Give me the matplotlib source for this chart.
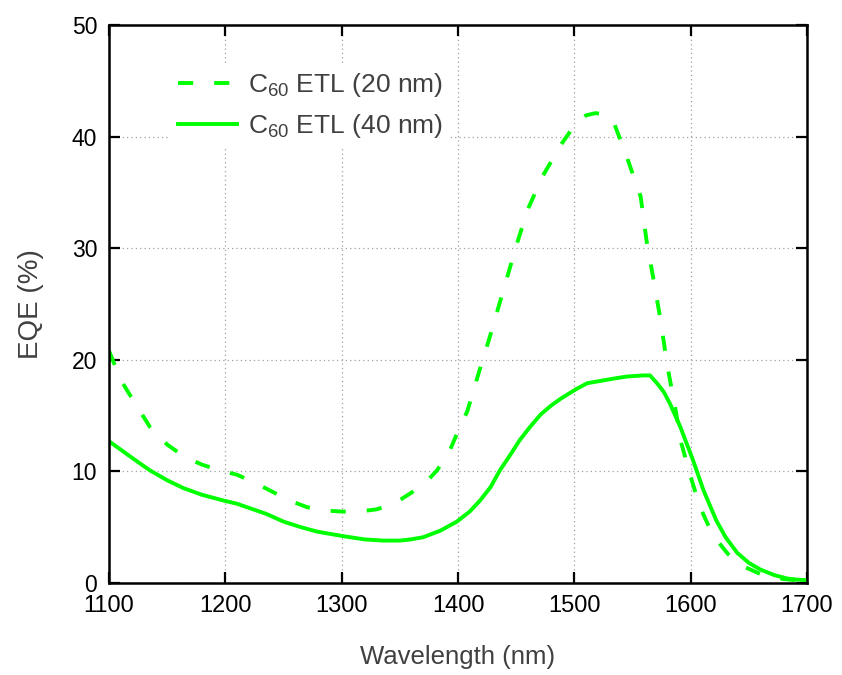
import matplotlib
matplotlib.use("Agg")
import matplotlib.pyplot as plt

# EQE spectra
wl_20 = [1100, 1110, 1120, 1135, 1150, 1165, 1180, 1195, 1210, 1225, 1240, 1255,
         1270, 1285, 1300, 1315, 1330, 1345, 1360, 1373, 1382, 1393, 1400, 1408,
         1418, 1428, 1440, 1450, 1460, 1473, 1488, 1500, 1510, 1518, 1525, 1533,
         1545, 1557, 1562, 1568, 1574, 1580, 1587, 1592, 1600, 1608, 1615, 1622,
         1632, 1645, 1660, 1680, 1700]
eqe_20 = [20.8, 18.2, 16.5, 14.0, 12.4, 11.3, 10.6, 10.1, 9.7, 9.0, 8.2, 7.4,
          6.8, 6.5, 6.4, 6.4, 6.6, 7.1, 8.1, 9.1, 10.1, 11.9, 13.6, 15.4,
          18.9, 22.3, 26.6, 30.2, 33.5, 36.5, 39.2, 41.0, 41.9, 42.1, 42.0, 41.5,
          38.2, 34.6, 30.7, 27.2, 23.6, 19.4, 15.5, 12.5, 9.5, 6.8, 5.2, 3.9,
          2.6, 1.5, 0.8, 0.35, 0.15]

wl_40 = [1100, 1120, 1135, 1150, 1164, 1180, 1198, 1210, 1221, 1235, 1250, 1265,
         1279, 1290, 1301, 1320, 1336, 1350, 1359, 1370, 1385, 1399, 1410, 1419,
         1428, 1436, 1445, 1453, 1462, 1471, 1480, 1488, 1502, 1511, 1522, 1533,
         1545, 1559, 1565, 1571, 1577, 1582, 1591, 1602, 1611, 1622, 1630, 1640,
         1650, 1660, 1672, 1683, 1692, 1700]
eqe_40 = [12.7, 11.2, 10.1, 9.2, 8.5, 7.9, 7.4, 7.1, 6.7, 6.2, 5.5, 5.0,
          4.6, 4.4, 4.2, 3.9, 3.8, 3.8, 3.9, 4.1, 4.7, 5.5, 6.4, 7.4,
          8.6, 10.1, 11.5, 12.8, 14.0, 15.1, 15.9, 16.5, 17.4, 17.9, 18.1, 18.3,
          18.5, 18.6, 18.6, 17.9, 17.1, 16.1, 14.0, 11.0, 8.3, 5.6, 4.1, 2.7,
          1.8, 1.2, 0.7, 0.4, 0.3, 0.25]

labels = [r"C$_{60}$ ETL (20 nm)", r"C$_{60}$ ETL (40 nm)"]
xticks = [1100, 1200, 1300, 1400, 1500, 1600, 1700]
yticks = [0, 10, 20, 30, 40, 50]

plt.rcParams['font.family'] = ['Liberation Sans', 'DejaVu Sans']
plt.rcParams['mathtext.fontset'] = 'custom'
plt.rcParams['mathtext.rm'] = 'Liberation Sans'
plt.rcParams['mathtext.it'] = 'Liberation Sans'
plt.rcParams['xtick.labelsize'] = 17
plt.rcParams['ytick.labelsize'] = 16.5

grey = '#404040'
green = '#00ff00'

fig = plt.figure(figsize=(8.42, 6.75), dpi=100)
ax = fig.add_axes([0.1295, 0.1363, 0.829, 0.8267])

ax.plot(wl_20, eqe_20, color=green, lw=2.8, linestyle=(0, (3.9, 5.4)), label=labels[0])
ax.plot(wl_40, eqe_40, color=green, lw=2.8, label=labels[1])

ax.set_xlim(1100, 1700)
ax.set_ylim(0, 50)
ax.set_xticks(xticks)
ax.set_yticks(yticks)
ax.grid(True, linestyle=(0, (1, 2.5)), color='#a0a0a0', lw=0.9)

for s in ax.spines.values():
    s.set_linewidth(1.8)
ax.tick_params(direction='in', length=8, width=1.6, top=True, right=True, pad=8.5,
               colors='black')

ax.set_xlabel("Wavelength (nm)", fontsize=18.5, color=grey, labelpad=20)
ax.set_ylabel("EQE (%)", fontsize=20, color=grey, labelpad=20)

leg = ax.legend(loc='upper left', bbox_to_anchor=(0.068, 0.955), frameon=True,
                fontsize=19, handlelength=2.25, handletextpad=0.4,
                labelspacing=0.5, borderpad=0.3)
leg.get_frame().set_facecolor('white')
leg.get_frame().set_edgecolor('none')
leg.get_frame().set_alpha(1)
leg.get_frame().set_boxstyle('square', pad=0)
for t in leg.get_texts():
    t.set_color(grey)

fig.savefig("out.png", dpi=100)
